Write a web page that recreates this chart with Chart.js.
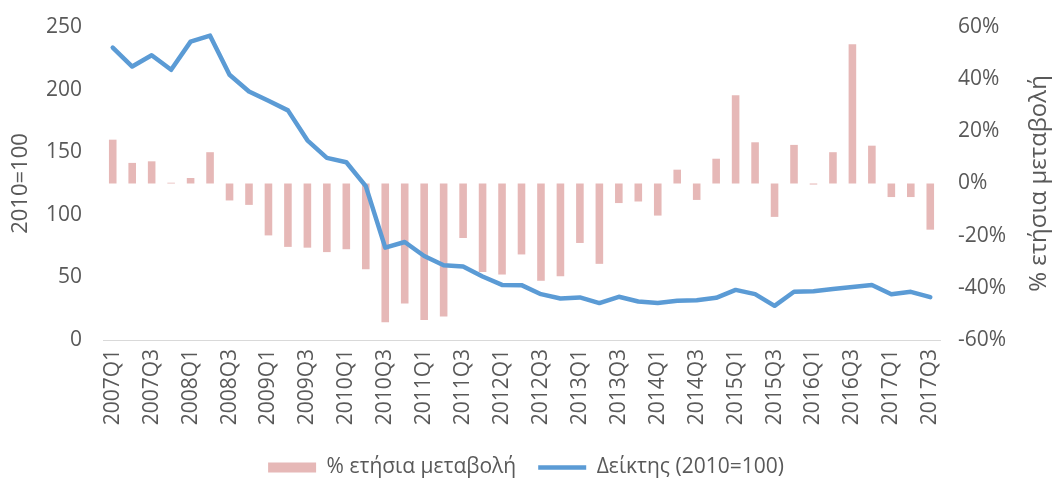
<!DOCTYPE html>
<html>
<head>
<meta charset="utf-8">
<script src="https://cdn.jsdelivr.net/npm/chart.js@4/dist/chart.umd.min.js"></script>
<style>
  body { margin: 0; background: #fff; }
  #wrap { width: 1052px; height: 490px; }
</style>
</head>
<body>
<div id="wrap"><canvas id="chart" width="1052" height="490"></canvas></div>
<script>
// quarters 2007Q1 .. 2017Q3
const quarters = [
  '2007Q1','2007Q2','2007Q3','2007Q4',
  '2008Q1','2008Q2','2008Q3','2008Q4',
  '2009Q1','2009Q2','2009Q3','2009Q4',
  '2010Q1','2010Q2','2010Q3','2010Q4',
  '2011Q1','2011Q2','2011Q3','2011Q4',
  '2012Q1','2012Q2','2012Q3','2012Q4',
  '2013Q1','2013Q2','2013Q3','2013Q4',
  '2014Q1','2014Q2','2014Q3','2014Q4',
  '2015Q1','2015Q2','2015Q3','2015Q4',
  '2016Q1','2016Q2','2016Q3','2016Q4',
  '2017Q1','2017Q2','2017Q3'
];

// % annual change (right axis)
const pctChange = [
  16.8, 7.9, 8.5, 0.3,
  2.1, 12.0, -6.5, -8.2,
  -19.9, -24.3, -24.6, -26.3,
  -25.2, -32.9, -53.2, -46.0,
  -52.3, -51.0, -20.9, -33.9,
  -34.9, -27.2, -37.3, -35.6,
  -22.8, -30.8, -7.5, -6.9,
  -12.3, 5.3, -6.3, 9.5,
  33.8, 15.8, -12.8, 14.8,
  -0.4, 12.0, 53.4, 14.5,
  -5.2, -5.2, -17.7
];

// index 2010=100 (left axis)
const indexValues = [
  233.5, 218.4, 227.4, 215.8,
  238.3, 243.1, 211.8, 198.5,
  191.1, 183.4, 159.5, 145.5,
  142.0, 122.9, 73.8, 78.3,
  67.1, 59.7, 58.7, 50.7,
  44.0, 43.8, 36.6, 33.2,
  34.0, 29.5, 34.5, 30.8,
  29.6, 31.3, 31.8, 33.7,
  40.0, 36.6, 27.3, 38.5,
  39.0, 40.8, 42.4, 44.0,
  36.6, 38.5, 34.2
];

const leftTicks = [0, 50, 100, 150, 200, 250];
const rightTicks = [-60, -40, -20, 0, 20, 40, 60];

const barLabel = '% ετήσια μεταβολή';
const lineLabel = 'Δείκτης (2010=100)';
const leftAxisTitle = '2010=100';
const rightAxisTitle = '% ετήσια μεταβολή';

const textColor = '#595959';
const fontFamily = '"Open Sans", "Noto Sans", sans-serif';

Chart.defaults.font.family = fontFamily;
Chart.defaults.color = textColor;

// right axis title reads bottom-to-top, so draw it ourselves
const rightTitle = {
  id: 'rightTitle',
  afterDraw(chart) {
    const { ctx, chartArea } = chart;
    ctx.save();
    ctx.translate(1039, (chartArea.top + chartArea.bottom) / 2);
    ctx.rotate(-Math.PI / 2);
    ctx.font = '24px ' + fontFamily;
    ctx.fillStyle = textColor;
    ctx.textAlign = 'center';
    ctx.textBaseline = 'middle';
    ctx.fillText(rightAxisTitle, 0, 0);
    ctx.restore();
  }
};

// fixed widths, no extra label overhang padding
function fixWidth(w) {
  return function (scale) {
    scale.width = w;
    scale.paddingTop = 0;
    scale.paddingBottom = 0;
  };
}

const ctx = document.getElementById('chart').getContext('2d');

new Chart(ctx, {
  type: 'bar',
  data: {
    labels: quarters,
    datasets: [
      {
        type: 'bar',
        label: barLabel,
        data: pctChange,
        yAxisID: 'y1',
        backgroundColor: '#E6B8B7',
        borderWidth: 0,
        categoryPercentage: 1,
        barPercentage: 0.39,
        pointStyle: 'rect',
        order: 2
      },
      {
        type: 'line',
        label: lineLabel,
        data: indexValues,
        yAxisID: 'y',
        borderColor: '#5B9BD5',
        backgroundColor: '#5B9BD5',
        borderWidth: 4.5,
        borderJoinStyle: 'round',
        borderCapStyle: 'round',
        pointRadius: 0,
        pointStyle: 'line',
        tension: 0,
        order: 1
      }
    ]
  },
  options: {
    responsive: false,
    animation: false,
    layout: { padding: { top: 27, bottom: 2, left: 0, right: 0 } },
    scales: {
      x: {
        offset: true,
        grid: { display: false, drawTicks: false },
        border: { display: true, color: '#D9D9D9', width: 1 },
        ticks: {
          autoSkip: false,
          maxRotation: 90,
          minRotation: 90,
          padding: 9,
          font: { size: 21 },
          callback: function (val, i) {
            return i % 2 === 0 ? quarters[i] : '';
          }
        },
        afterFit: function (scale) { scale.height = 95; }
      },
      y: {
        position: 'left',
        min: 0,
        max: 250,
        afterBuildTicks: function (scale) {
          scale.ticks = leftTicks.map(v => ({ value: v }));
        },
        grid: { display: false, drawTicks: false },
        border: { display: false },
        ticks: { padding: 21, font: { size: 21 } },
        title: {
          display: true,
          text: leftAxisTitle,
          font: { size: 22 },
          padding: { top: 8, bottom: 0 }
        },
        afterFit: fixWidth(103)
      },
      y1: {
        position: 'right',
        min: -60,
        max: 60,
        afterBuildTicks: function (scale) {
          scale.ticks = rightTicks.map(v => ({ value: v }));
        },
        grid: { display: false, drawTicks: false },
        border: { display: false },
        ticks: {
          padding: 18,
          font: { size: 21 },
          callback: function (v) { return v + '%'; }
        },
        afterFit: fixWidth(112)
      }
    },
    plugins: {
      legend: {
        position: 'bottom',
        labels: {
          usePointStyle: true,
          pointStyleWidth: 48,
          boxHeight: 10,
          padding: 22,
          font: { size: 21 },
          color: textColor,
          sort: function (a, b) { return a.datasetIndex - b.datasetIndex; }
        }
      },
      tooltip: { enabled: false }
    }
  },
  plugins: [rightTitle]
});
</script>
</body>
</html>
